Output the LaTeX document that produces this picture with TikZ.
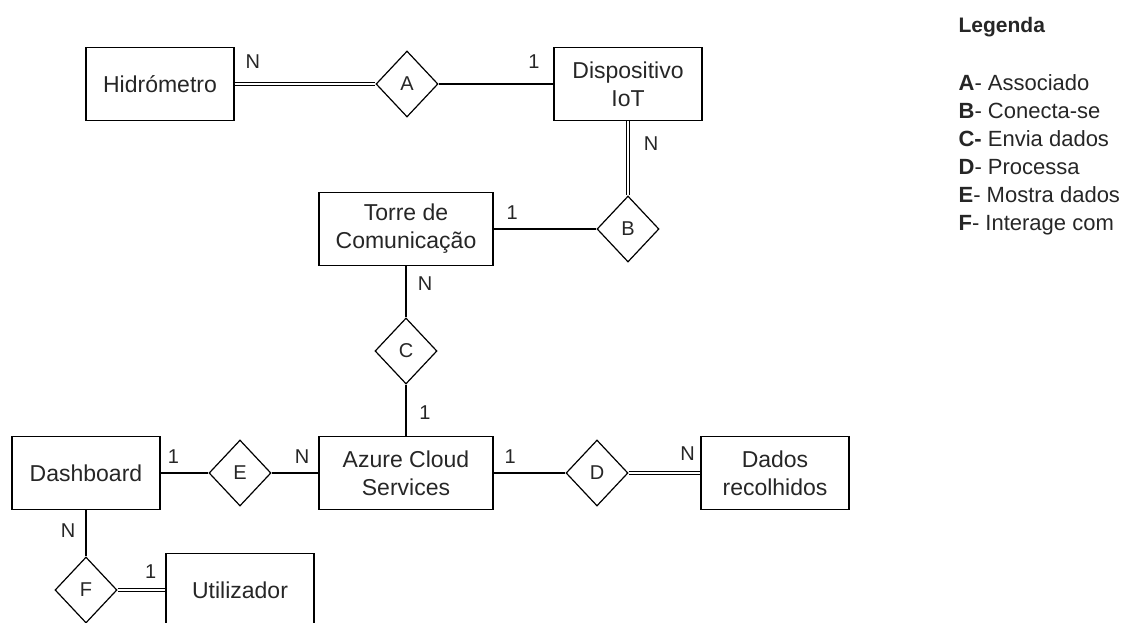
\documentclass[tikz,border=0pt]{standalone}
\usepackage{fontspec}
\setmainfont{Liberation Sans}
\usetikzlibrary{shapes.geometric,positioning}

\begin{document}
\begin{tikzpicture}[x=1pt, y=-1pt, line width=1.2pt, text=black!85,
  entity/.style={draw, minimum width=148pt, minimum height=73pt, inner sep=0pt, align=center, font=\fontsize{23}{28}\selectfont},
  rel/.style={draw, diamond, aspect=1, inner sep=0pt, minimum width=62pt, minimum height=66pt, font=\fontsize{20}{22}\selectfont},
  card/.style={inner sep=0pt, font=\fontsize{20}{22}\selectfont},
  total/.style={double, double distance=1.8pt, line width=0.9pt}]
\useasboundingbox (0,0) rectangle (1132,622);
% entities and relationships
\node[entity] (hidro) at (160,84) {Hidrómetro};
\node[rel, right of=hidro, node distance=247pt] (relA) {A};
\node[entity, right of=relA, node distance=221pt] (disp) {Dispositivo\\IoT};
\node[rel, below of=disp, node distance=145pt] (relB) {B};
\node[entity, minimum width=174pt, left of=relB, node distance=222pt] (torre) {Torre de\\Comunicação};
\node[rel, below of=torre, node distance=122pt] (relC) {C};
\node[entity, minimum width=174pt, below of=relC, node distance=122pt] (azure) {Azure Cloud\\Services};
\node[rel, left of=azure, node distance=166pt] (relE) {E};
\node[entity, left of=relE, node distance=154pt] (dash) {Dashboard};
\node[rel, right of=azure, node distance=191pt] (relD) {D};
\node[entity, right of=relD, node distance=178pt] (dados) {Dados\\recolhidos};
\node[rel, below of=dash, node distance=117pt] (relF) {F};
\node[entity, right of=relF, node distance=154pt] (util) {Utilizador};
% connectors with cardinalities
\draw[total] (hidro) -- node[card, pos=.13, yshift=22pt] (cHA) {N} (relA);
\draw (relA) -- node[card, pos=.83, yshift=22pt] (cAD) {1} (disp);
\draw[total] (disp) -- node[card, pos=.3, xshift=23pt] (cDB) {N} (relB);
\draw (torre) -- node[card, pos=.18, yshift=16pt] (cTB) {1} (relB);
\draw (torre) -- node[card, pos=.34, xshift=19pt] (cTC) {N} (relC);
\draw (relC) -- node[card, pos=.55, xshift=19pt] (cCA) {1} (azure);
\draw (dash) -- node[card, pos=.27, yshift=16pt] (cDE) {1} (relE);
\draw (relE) -- node[card, pos=.65, yshift=16pt] (cEA) {N} (azure);
\draw (azure) -- node[card, pos=.23, yshift=16pt] (cAzD) {1} (relD);
\draw[total] (relD) -- node[card, pos=.82, yshift=19pt] (cDD) {N} (dados);
\draw (dash) -- node[card, pos=.45, xshift=-18pt] (cDF) {N} (relF);
\draw[total] (relF) -- node[card, pos=.69, yshift=18pt] (cFU) {1} (util);
% legend
\node[anchor=west, inner sep=0pt, font=\fontsize{21}{28}\selectfont\bfseries] (legTitle) at (958,27) {Legenda};
\node[anchor=north west, inner sep=0pt, align=left, font=\fontsize{22}{28}\selectfont] (legItems) at (958,74)
  {\textbf{A}- Associado\\\textbf{B}- Conecta-se\\\textbf{C-} Envia dados\\\textbf{D}- Processa\\\textbf{E}- Mostra dados\\\textbf{F}- Interage com};
\end{tikzpicture}
\end{document}
